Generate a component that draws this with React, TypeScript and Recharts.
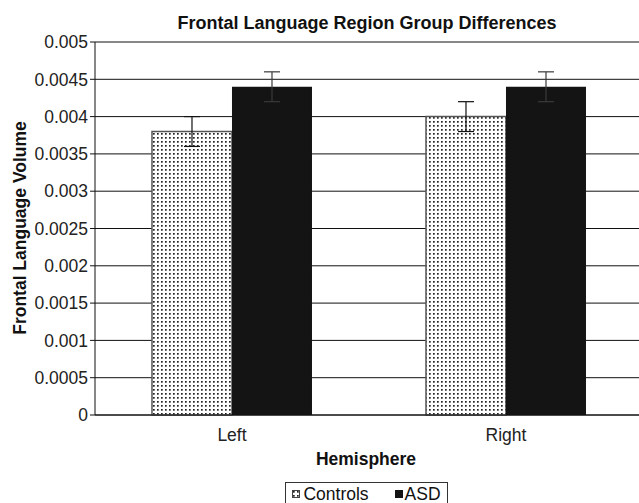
import React from 'react';
import { BarChart, Bar, XAxis, YAxis, CartesianGrid, ErrorBar } from 'recharts';

const hemispheres = ['Left', 'Right'];
const controls = [0.0038, 0.004];
const asd = [0.0044, 0.0044];
const controlsErr = [0.0002, 0.0002];
const asdErr = [0.0002, 0.0002];
const yTicks = [0, 0.0005, 0.001, 0.0015, 0.002, 0.0025, 0.003, 0.0035, 0.004, 0.0045, 0.005];

const data = hemispheres.map((h, i) => ({
  hemisphere: h,
  controls: controls[i],
  controlsErr: controlsErr[i],
  asd: asd[i],
  asdErr: asdErr[i],
}));

const font = '"Liberation Sans", Arial, sans-serif';

export default function App() {
  return (
    <div style={{ position: 'absolute', left: 0, top: 0, width: 639, height: 503, overflow: 'hidden', background: '#fff', fontFamily: font }}>
      <div style={{ position: 'absolute', left: 95, width: 544, top: 13, textAlign: 'center', fontWeight: 'bold', fontSize: 18, color: '#111', whiteSpace: 'nowrap' }}>
        Frontal Language Region Group Differences
      </div>

      <BarChart
        width={643}
        height={503}
        data={data}
        margin={{ top: 42, right: 0, left: 0, bottom: 28 }}
        barCategoryGap="20.8%"
        barGap={0}
      >
        <defs>
          <pattern id="dots" patternUnits="userSpaceOnUse" width="4" height="4">
            <rect width="4" height="4" fill="#fff" />
            <rect x="1" y="1" width="1.7" height="1.7" fill="#222" />
          </pattern>
        </defs>
        <CartesianGrid vertical={false} stroke="#111" strokeWidth={1} />
        <XAxis
          dataKey="hemisphere"
          height={60}
          axisLine={{ stroke: '#111' }}
          tickLine={false}
          tickSize={6}
          tickMargin={8}
          tick={{ fill: '#222', fontSize: 17.5, fontFamily: font }}
          label={{
            content: () => (
              <text x={366} y={465} textAnchor="middle" fontWeight="bold" fontSize={17.5} fill="#111" fontFamily={font}>
                Hemisphere
              </text>
            ),
          }}
        />
        <YAxis
          width={95}
          domain={[0, 0.005]}
          ticks={yTicks}
          interval={0}
          axisLine={{ stroke: '#111' }}
          tickLine={{ stroke: '#111' }}
          tickSize={5}
          tickMargin={2}
          tick={{ fill: '#222', fontSize: 17.5, fontFamily: font }}
          label={{
            content: () => (
              <text x={20} y={228} transform="rotate(-90 20 228)" textAnchor="middle" dominantBaseline="central" fontWeight="bold" fontSize={17.5} fill="#111" fontFamily={font}>
                Frontal Language Volume
              </text>
            ),
          }}
        />
        <Bar dataKey="controls" fill="url(#dots)" stroke="#555" strokeWidth={1.5} isAnimationActive={false}>
          <ErrorBar dataKey="controlsErr" width={8} stroke="#111" strokeWidth={1.2} />
        </Bar>
        <Bar dataKey="asd" fill="#141414" isAnimationActive={false}>
          <ErrorBar dataKey="asdErr" width={8} stroke="#3a3a3a" strokeWidth={1.2} />
        </Bar>
      </BarChart>

      <div
        style={{
          position: 'absolute',
          left: 285,
          top: 482,
          width: 163,
          height: 24,
          boxSizing: 'border-box',
          border: '1px solid #333',
          display: 'flex',
          alignItems: 'center',
          justifyContent: 'center',
          gap: 26,
          fontSize: 17.5,
          color: '#111',
          whiteSpace: 'nowrap',
        }}
      >
        <span style={{ display: 'flex', alignItems: 'center' }}>
          <svg width="8" height="8" style={{ marginRight: 3 }}>
            <rect x="0.5" y="0.5" width="7" height="7" fill="url(#dots)" stroke="#444" />
          </svg>
          Controls
        </span>
        <span style={{ display: 'flex', alignItems: 'center' }}>
          <svg width="8" height="8" style={{ marginRight: 2 }}>
            <rect width="8" height="8" fill="#141414" />
          </svg>
          ASD
        </span>
      </div>
    </div>
  );
}
